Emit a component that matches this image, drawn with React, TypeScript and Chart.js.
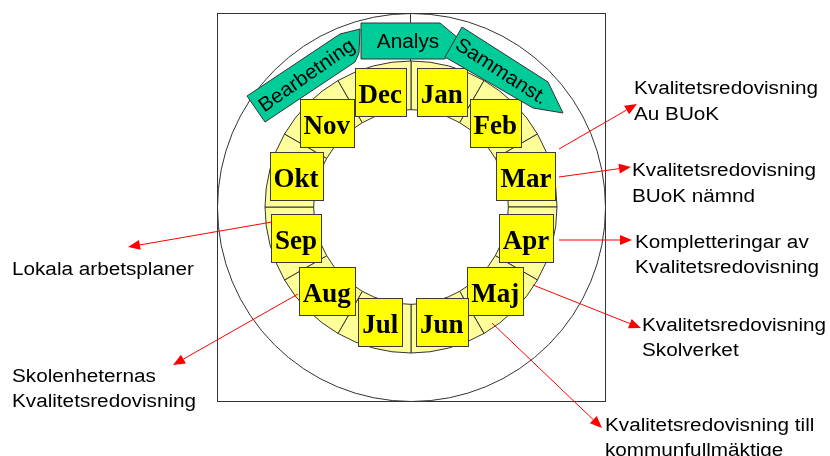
import React, { useEffect, useRef } from "react";
import { Chart, registerables } from "chart.js";

Chart.register(...registerables);

// ---- data ----
const months = ["Jan", "Feb", "Mar", "Apr", "Maj", "Jun", "Jul", "Aug", "Sep", "Okt", "Nov", "Dec"];
const monthShare = [1, 1, 1, 1, 1, 1, 1, 1, 1, 1, 1, 1];
const phases = ["Bearbetning", "Analys", "Sammanst."];
const noteTexts = [
  ["Kvalitetsredovisning", "Au BUoK"],
  ["Kvalitetsredovisning", "BUoK nämnd"],
  ["Kompletteringar av", "Kvalitetsredovisning"],
  ["Kvalitetsredovisning", "Skolverket"],
  ["Kvalitetsredovisning till", "kommunfullmäktige"],
  ["Lokala arbetsplaner"],
  ["Skolenheternas", "Kvalitetsredovisning"],
];

// ---- layout (relative to ring centre) ----
const FRAME_HALF = 194;
const BOX_RADIUS = 119;
const BOX_H = 48;
const noteLayout = [
  { from: [148, -58], to: [226, -103], tx: 223, base: [-113, -87] },
  { from: [148, -30], to: [220, -40], tx: 221, base: [-31, -5] },
  { from: [148, 33], to: [221, 33], tx: 224, base: [41, 66] },
  { from: [122, 78], to: [230, 121], tx: 231, base: [124, 149] },
  { from: [81, 116], to: [191, 221], tx: 194, base: [224, 249] },
  { from: [-139, 15], to: [-283, 40], tx: -399, base: [68] },
  { from: [-113, 87], to: [-238, 158], tx: -399, base: [175, 200] },
];
const phaseShapes = [
  {
    pts: [[-164, -111], [-71, -173], [-51, -178], [-52, -154], [-56, -145], [-146, -85]],
    text: [-104, -131], rot: -35,
  },
  {
    pts: [[-50, -184], [29, -184], [47, -169], [34, -148], [-50, -148]],
    text: [-3, -165], rot: 0,
  },
  {
    pts: [[51, -180], [137, -125], [152, -94], [122, -99], [34, -150]],
    text: [90, -135], rot: 33,
  },
];

const SANS = "'Liberation Sans', Arial, sans-serif";
const SERIF = "'Liberation Serif', 'Times New Roman', serif";
const STRETCH = 1.15;

function stretchedText(ctx: CanvasRenderingContext2D, s: string, x: number, y: number, align: CanvasTextAlign) {
  ctx.save();
  ctx.translate(x, y);
  ctx.scale(STRETCH, 1);
  ctx.textAlign = align;
  ctx.fillText(s, 0, 0);
  ctx.restore();
}

const wheelPlugin = {
  id: "wheel",
  beforeDatasetsDraw(chart: any) {
    const ctx: CanvasRenderingContext2D = chart.ctx;
    const arc = chart.getDatasetMeta(0).data[0];
    const cx = arc.x, cy = arc.y;
    ctx.save();
    ctx.strokeStyle = "#333";
    ctx.lineWidth = 1;
    ctx.strokeRect(cx - FRAME_HALF + 0.5, cy - FRAME_HALF + 0.5, FRAME_HALF * 2, FRAME_HALF * 2);
    ctx.beginPath();
    ctx.arc(cx + 0.5, cy + 0.5, FRAME_HALF, 0, Math.PI * 2);
    ctx.stroke();
    ctx.beginPath();
    ctx.moveTo(cx - 0.5, cy - FRAME_HALF);
    ctx.lineTo(cx - 0.5, cy - arc.innerRadius);
    ctx.stroke();
    ctx.restore();
  },
  afterDatasetsDraw(chart: any) {
    const ctx: CanvasRenderingContext2D = chart.ctx;
    const arcs = chart.getDatasetMeta(0).data;
    const cx = arcs[0].x, cy = arcs[0].y;
    ctx.save();

    // month boxes
    ctx.font = `bold 27px ${SERIF}`;
    arcs.forEach((a: any, i: number) => {
      const mid = (a.startAngle + a.endAngle) / 2;
      const bx = cx + BOX_RADIUS * Math.cos(mid);
      const by = cy + BOX_RADIUS * Math.sin(mid);
      const label = months[i];
      const w = Math.max(44, Math.round(ctx.measureText(label).width + 8));
      const x0 = Math.round(bx - w / 2) + 0.5;
      const y0 = Math.round(by - BOX_H / 2) + 0.5;
      ctx.fillStyle = "#FFFF00";
      ctx.fillRect(x0, y0, w, BOX_H);
      ctx.strokeStyle = "#3a3a3a";
      ctx.lineWidth = 1;
      ctx.strokeRect(x0, y0, w, BOX_H);
      ctx.fillStyle = "#000";
      ctx.textAlign = "center";
      ctx.textBaseline = "alphabetic";
      ctx.fillText(label, bx, by + 11);
    });

    // phase arrows
    phaseShapes.forEach((p, i) => {
      ctx.beginPath();
      p.pts.forEach(([px, py], k) => {
        if (k === 0) ctx.moveTo(cx + px, cy + py);
        else ctx.lineTo(cx + px, cy + py);
      });
      ctx.closePath();
      ctx.fillStyle = "#00CC99";
      ctx.fill();
      ctx.strokeStyle = "#333";
      ctx.lineWidth = 1;
      ctx.stroke();
      ctx.save();
      ctx.translate(cx + p.text[0], cy + p.text[1]);
      ctx.rotate((p.rot * Math.PI) / 180);
      ctx.scale(1.04, 1);
      ctx.fillStyle = "#000";
      ctx.font = `20px ${SANS}`;
      ctx.textAlign = "center";
      ctx.textBaseline = "middle";
      ctx.fillText(phases[i], 0, 0);
      ctx.restore();
    });

    // annotations
    noteLayout.forEach((n, i) => {
      const sx = cx + n.from[0], sy = cy + n.from[1];
      const ex = cx + n.to[0], ey = cy + n.to[1];
      const dx = ex - sx, dy = ey - sy;
      const len = Math.hypot(dx, dy);
      const ux = dx / len, uy = dy / len;
      const head = 12, half = 5;
      ctx.strokeStyle = "#FF0000";
      ctx.fillStyle = "#FF0000";
      ctx.lineWidth = 1;
      ctx.beginPath();
      ctx.moveTo(sx, sy);
      ctx.lineTo(ex - ux * head, ey - uy * head);
      ctx.stroke();
      ctx.beginPath();
      ctx.moveTo(ex, ey);
      ctx.lineTo(ex - ux * head - uy * half, ey - uy * head + ux * half);
      ctx.lineTo(ex - ux * head + uy * half, ey - uy * head - ux * half);
      ctx.closePath();
      ctx.fill();

      ctx.fillStyle = "#000";
      ctx.font = `18px ${SANS}`;
      ctx.textBaseline = "alphabetic";
      noteTexts[i].forEach((line, k) => {
        stretchedText(ctx, line, cx + n.tx, cy + n.base[k], "left");
      });
    });
    ctx.restore();
  },
};

export default function App() {
  const ref = useRef<HTMLCanvasElement | null>(null);
  useEffect(() => {
    if (!ref.current) return;
    const chart = new Chart(ref.current, {
      type: "doughnut",
      data: {
        labels: months,
        datasets: [
          {
            data: monthShare,
            backgroundColor: "#FFFF99",
            borderColor: "#333",
            borderWidth: 1,
            hoverOffset: 0,
          },
        ],
      },
      options: {
        responsive: false,
        animation: false,
        rotation: 0,
        radius: 146,
        cutout: 97,
        layout: { padding: { left: 265, right: 273, top: 61, bottom: 103 } },
        plugins: { legend: { display: false }, tooltip: { enabled: false } },
        events: [],
      },
      plugins: [wheelPlugin],
    });
    return () => chart.destroy();
  }, []);
  return (
    <div style={{ position: "fixed", left: 0, top: 0, width: 830, height: 456, background: "#fff" }}>
      <canvas ref={ref} width={830} height={456} style={{ display: "block" }} />
    </div>
  );
}
